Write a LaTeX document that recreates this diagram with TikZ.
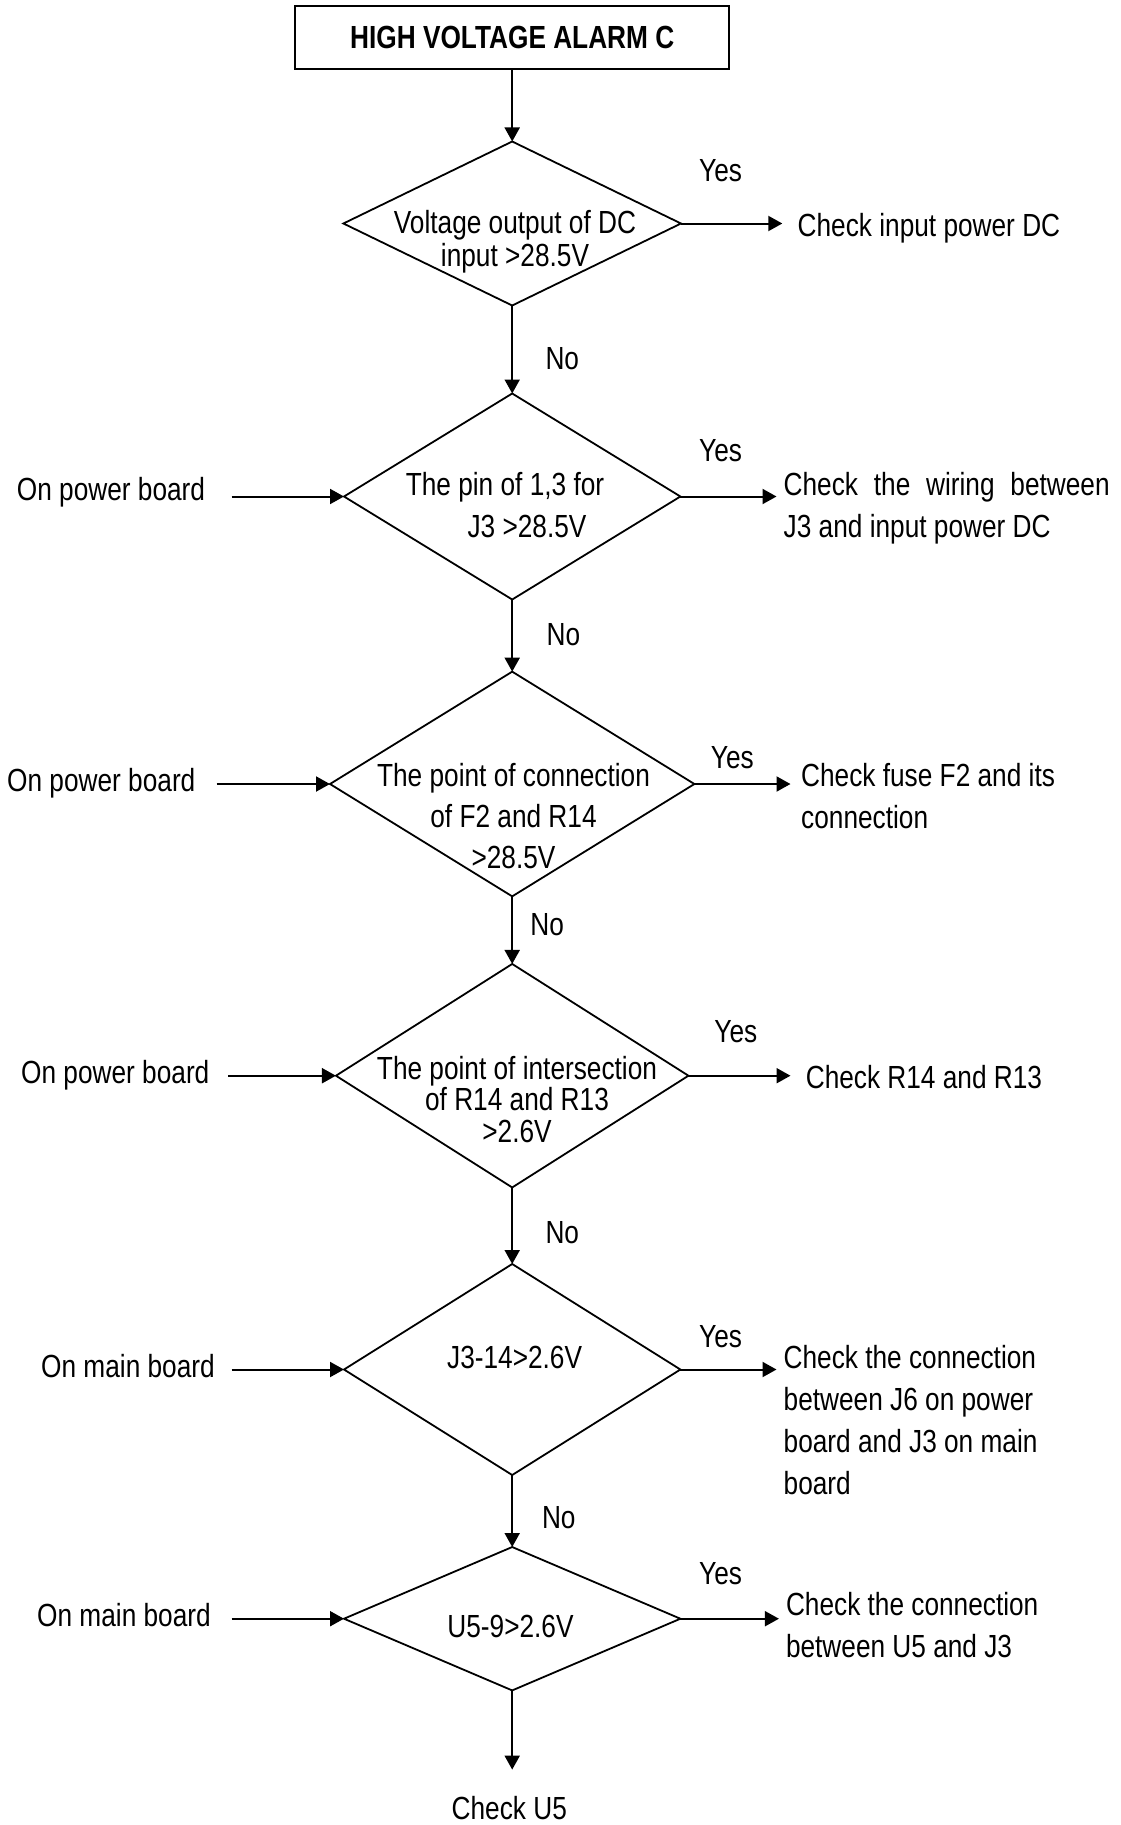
\documentclass[tikz,border=0pt]{standalone}
\usepackage{fontspec}
\setmainfont[FakeStretch=0.82]{Liberation Sans}
\usetikzlibrary{shapes.geometric,arrows.meta}
\begin{document}
\begin{tikzpicture}[x=1pt,y=-1pt,
  txt/.style={font=\fontsize{32}{42}\selectfont, inner sep=0pt, align=center},
  ltxt/.style={font=\fontsize{32}{42}\selectfont, inner sep=0pt, anchor=north west, align=left},
  dtxt/.style={font=\fontsize{32}{42}\selectfont, inner sep=0pt, anchor=north, align=center},
  dia/.style={draw, shape=diamond, inner sep=0pt, outer sep=0pt, line width=1.8pt},
  arr/.style={line width=2pt, -{Triangle[length=14pt,width=15pt]}},
]
\useasboundingbox (0,0) rectangle (1120,1825);
\fill[white] (0,0) rectangle (1120,1825);

% title
\node[draw, line width=2pt, minimum width=434.3pt, minimum height=62.9pt, inner sep=0pt,
      font=\bfseries\fontsize{32}{38}\selectfont] (title) at (512.2,37.2) {HIGH VOLTAGE ALARM C};

% diamonds
\node[dia, minimum width=337.6pt, minimum height=164pt] (d1) at (512.2,223.5) {};
\node[dia, minimum width=336.4pt, minimum height=206pt] (d2) at (512.2,496.5) {};
\node[dia, minimum width=364.4pt, minimum height=224.7pt] (d3) at (512.2,784) {};
\node[dia, minimum width=352.5pt, minimum height=223.5pt] (d4) at (512.2,1075.7) {};
\node[dia, minimum width=336.4pt, minimum height=211pt] (d5) at (512.2,1369.5) {};
\node[dia, minimum width=336.4pt, minimum height=143.4pt] (d6) at (512.2,1618.7) {};

% diamond texts
\node[dtxt, font=\fontsize{32}{33}\selectfont] (t1) at (515,210) {Voltage output of DC\\input >28.5V};
\node[dtxt] (t2) at (505,472.3) {The pin of 1,3 for\\\hspace*{44pt}J3 >28.5V};
\node[dtxt, font=\fontsize{32}{41}\selectfont] (t3) at (513.5,763.4) {The point of connection\\of F2 and R14\\>28.5V};
\node[dtxt, font=\fontsize{32}{31.5}\selectfont] (t4) at (517,1055.6) {The point of intersection\\of R14 and R13\\>2.6V};
\node[dtxt] (t5) at (514.6,1346) {J3-14>2.6V};
\node[dtxt] (t6) at (510.5,1615) {U5-9>2.6V};

% left labels
\node[txt] (l2) at (111,492.5) {On power board};
\node[txt] (l3) at (101.3,783.5) {On power board};
\node[txt] (l4) at (115.3,1075.7) {On power board};
\node[txt] (l5) at (128,1366) {On main board};
\node[txt] (l6) at (124,1615) {On main board};

\coordinate (s2) at (231.7,496.5);
\coordinate (s3) at (216.5,784);
\coordinate (s4) at (228.2,1075.7);
\coordinate (s5) at (231.7,1369.5);
\coordinate (s6) at (231.7,1618.7);

% right texts
\node[ltxt] (r1) at (797.5,212.7) {Check input power DC};
\node[ltxt] (r2) at (783.5,472.3) {\makebox[326pt][s]{Check the wiring between}\\J3 and input power DC};
\node[ltxt] (r3) at (801,763.4) {Check fuse F2 and its\\connection};
\node[ltxt] (r4) at (805.6,1065) {Check R14 and R13};
\node[ltxt] (r5) at (783.5,1345.5) {Check the connection\\between J6 on power\\board and J3 on main\\board};
\node[ltxt] (r6) at (785.8,1592.3) {Check the connection\\between U5 and J3};

\coordinate (e1) at (782.3,223.5);
\coordinate (e2) at (776.5,496.5);
\coordinate (e3) at (790.5,784);
\coordinate (e4) at (790.5,1075.7);
\coordinate (e5) at (776.5,1369.5);
\coordinate (e6) at (778.9,1618.7);

% Yes / No labels
\node[txt] (y1) at (720.6,171) {Yes};
\node[txt] (y2) at (720.6,450.5) {Yes};
\node[txt] (y3) at (732.3,758) {Yes};
\node[txt] (y4) at (735.8,1031.5) {Yes};
\node[txt] (y5) at (720.6,1336.5) {Yes};
\node[txt] (y6) at (720.6,1574) {Yes};

\node[txt] (n1) at (562.3,358.6) {No};
\node[txt] (n2) at (563.5,634.5) {No};
\node[txt] (n3) at (547.2,924.4) {No};
\node[txt] (n4) at (562.3,1233) {No};
\node[txt] (n5) at (558.8,1518) {No};

% final
\coordinate (e7) at (512.2,1769.6);
\node[txt] (u5) at (509.3,1808) {Check U5};

% vertical connectors
\draw[arr] (title.south) -- (d1.north);
\draw[arr] (d1.south) -- (d2.north);
\draw[arr] (d2.south) -- (d3.north);
\draw[arr] (d3.south) -- (d4.north);
\draw[arr] (d4.south) -- (d5.north);
\draw[arr] (d5.south) -- (d6.north);
\draw[arr] (d6.south) -- (e7);

% yes connectors
\draw[arr] (d1.east) -- (e1);
\draw[arr] (d2.east) -- (e2);
\draw[arr] (d3.east) -- (e3);
\draw[arr] (d4.east) -- (e4);
\draw[arr] (d5.east) -- (e5);
\draw[arr] (d6.east) -- (e6);

% left connectors
\draw[arr] (s2) -- (d2.west);
\draw[arr] (s3) -- (d3.west);
\draw[arr] (s4) -- (d4.west);
\draw[arr] (s5) -- (d5.west);
\draw[arr] (s6) -- (d6.west);
\end{tikzpicture}
\end{document}
